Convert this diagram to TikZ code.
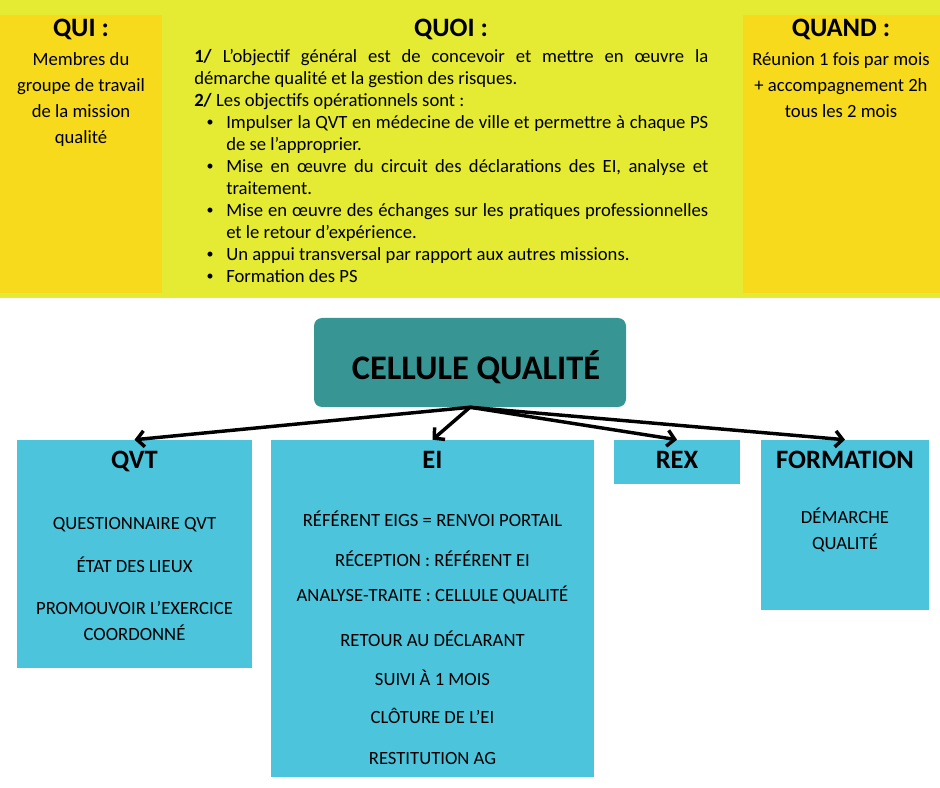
\documentclass[tikz,border=0pt]{standalone}
\usepackage{fontspec}
\setmainfont{Carlito}
\usepackage{enumitem}
\usetikzlibrary{arrows.meta, fit}
\definecolor{bandgreen}{RGB}{228,235,50}
\definecolor{boxyellow}{RGB}{246,218,27}
\definecolor{cellteal}{RGB}{55,150,147}
\definecolor{boxblue}{RGB}{76,196,220}

\begin{document}
\begin{tikzpicture}[x=0.75pt,y=0.75pt,yscale=-1,xscale=1,
  panel/.style={inner sep=0pt, fill=#1},
  headtext/.style={font=\fontsize{19.9}{23}\selectfont\bfseries, inner sep=0pt, anchor=base},
  bodytext/.style={font=\fontsize{14}{19.5}\selectfont, inner sep=0pt, anchor=base},
  link/.style={line width=2.6pt, line cap=round, line join=round, -{Straight Barb[length=5.5pt,width=12pt]}}]
\useasboundingbox (0,0) rectangle (940,788);

%Shape: Rectangle [top band]
\fill[bandgreen] (0,0) rectangle (940,298);
%Shape: Rectangle [qui]
\node[panel=boxyellow, fit={(0,15) (162,293)}] (qui) {};
%Shape: Rectangle [quand]
\node[panel=boxyellow, fit={(743,15) (940,293)}] (quand) {};

% Text Node
\node[headtext] (quititle) at (81,37) {QUI :};
% Text Node
\node[bodytext, text width=115pt, align=flush center] (quitext) at (81,66) {Membres du\\groupe de travail\\de la mission\\qualité};
% Text Node
\node[headtext] (quoititle) at (451,37) {QUOI :};
% Text Node
\node[inner sep=0pt, anchor=base west, text width=385.5pt, align=justify, font=\fontsize{14}{16.5}\selectfont] (quoitext) at (194,63) {%
\textbf{1/} L’objectif général est de concevoir et mettre en œuvre la\linebreak démarche qualité et la gestion des risques.\par
\textbf{2/} Les objectifs opérationnels sont :
\begin{itemize}[label=\raisebox{0.15em}{\scalebox{0.75}{\textbullet}}, leftmargin=24pt, labelsep=9.5pt, itemsep=0pt, topsep=0pt, parsep=0pt, partopsep=0pt]
\item Impulser la QVT en médecine de ville et permettre à chaque PS\linebreak de se l’approprier.
\item Mise en œuvre du circuit des déclarations des EI, analyse et\linebreak traitement.
\item Mise en œuvre des échanges sur les pratiques professionnelles\linebreak et le retour d’expérience.
\item Un appui transversal par rapport aux autres missions.
\item Formation des PS
\end{itemize}};
% Text Node
\node[headtext] (quandtitle) at (841,37) {QUAND :};
% Text Node
\node[bodytext, text width=145pt, align=flush center] (quandtext) at (841,66) {Réunion 1 fois par mois\\+ accompagnement 2h\\tous les 2 mois};

%Rounded Rect [cellule]
\node[panel=cellteal, rounded corners=6pt, fit={(314,318) (626,407)}] (cellule) {};
\node[inner sep=0pt, anchor=base, font=\fontsize{25.8}{30}\selectfont\bfseries] (celluletitle) at (476,379) {CELLULE QUALITÉ};

%Shape: Rectangle [qvt]
\node[panel=boxblue, fit={(17,440) (252,668)}] (qvt) {};
%Shape: Rectangle [ei]
\node[panel=boxblue, fit={(271,440) (594,777)}] (ei) {};
%Shape: Rectangle [rex]
\node[panel=boxblue, fit={(614,440) (740,484)}] (rex) {};
%Shape: Rectangle [formation]
\node[panel=boxblue, fit={(761,440) (929,610)}] (formation) {};

%Straight Lines
\draw[link] (cellule.south) -- (qvt.north);
\draw[link] (cellule.south) -- (ei.north);
\draw[link] (cellule.south) -- (rex.north);
\draw[link] (cellule.south) -- (formation.north);

% Text Node
\node[headtext] (qvttitle) at (134.5,468) {QVT};
\node[bodytext] (qvtone) at (134.5,529) {QUESTIONNAIRE QVT};
\node[bodytext] (qvttwo) at (134.5,572) {ÉTAT DES LIEUX};
\node[bodytext, text width=170pt, align=flush center] (qvtthree) at (134.5,614) {PROMOUVOIR L’EXERCICE\\COORDONNÉ};
% Text Node
\node[headtext] (eititle) at (432.5,468) {EI};
\node[bodytext] (eione) at (432.5,526) {RÉFÉRENT EIGS = RENVOI PORTAIL};
\node[bodytext] (eitwo) at (432.5,566) {RÉCEPTION : RÉFÉRENT EI};
\node[bodytext] (eithree) at (432.5,601) {ANALYSE-TRAITE : CELLULE QUALITÉ};
\node[bodytext] (eifour) at (432.5,646) {RETOUR AU DÉCLARANT};
\node[bodytext] (eifive) at (432.5,685) {SUIVI À 1 MOIS};
\node[bodytext] (eisix) at (432.5,723) {CLÔTURE DE L’EI};
\node[bodytext] (eiseven) at (432.5,764) {RESTITUTION AG};
% Text Node
\node[headtext] (rextitle) at (677,468) {REX};
% Text Node
\node[headtext] (formationtitle) at (845,468) {FORMATION};
\node[bodytext, text width=115pt, align=flush center] (formationtext) at (845,523) {DÉMARCHE\\QUALITÉ};

\end{tikzpicture}
\end{document}
